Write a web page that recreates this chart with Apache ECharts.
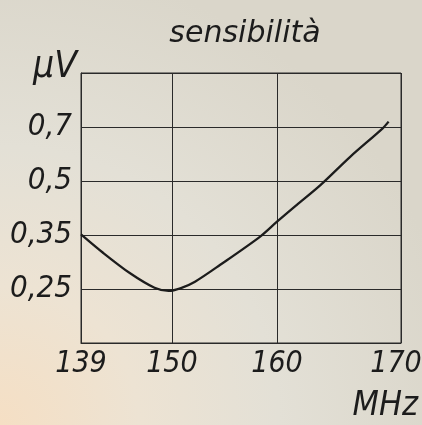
<!DOCTYPE html>
<html>
<head>
<meta charset="utf-8">
<script src="https://cdn.jsdelivr.net/npm/echarts@6/dist/echarts.min.js"></script>
<style>
html,body{margin:0;padding:0;}
#c{width:422px;height:425px;}
</style>
</head>
<body>
<div id="c"></div>
<script>
// ---- data ----
const freqMHz = [139, 141.7, 144.9, 147.9, 149.6, 150.8, 152.2, 154.6, 158.4, 160, 161.6, 163.5, 165.9, 168.5, 169];
const sensUV  = [0.355, 0.315, 0.277, 0.252, 0.247, 0.251, 0.262, 0.292, 0.350, 0.385, 0.429, 0.487, 0.584, 0.700, 0.732];
const xTickLabels = [139, 150, 160, 170];
const yTickValues = [0.25, 0.35, 0.5, 0.7];
const yTickLabels = ['0,25', '0,35', '0,5', '0,7'];

// ---- the hand-drawn frequency axis is not uniform: piecewise-linear scale between its ticks ----
const xTickStops = [0, 0.284, 0.6125, 1];
function xScale(f) {
  for (let i = 0; i < xTickLabels.length - 1; i++) {
    const a = xTickLabels[i], b = xTickLabels[i + 1];
    if (f <= b || i === xTickLabels.length - 2) {
      return xTickStops[i] + (f - a) / (b - a) * (xTickStops[i + 1] - xTickStops[i]);
    }
  }
}
function xLabel(v) {
  let best = 0;
  for (let i = 1; i < xTickStops.length; i++) {
    if (Math.abs(xTickStops[i] - v) < Math.abs(xTickStops[best] - v)) best = i;
  }
  const txt = String(xTickLabels[best]);
  return best === xTickStops.length - 1 ? '{e|' + txt + '}' : txt;
}
function yLabel(v) {
  for (let i = 0; i < yTickValues.length; i++) {
    if (Math.abs(v / yTickValues[i] - 1) < 0.04) return yTickLabels[i];
  }
  return '';
}

const seriesData = freqMHz.map((f, i) => [xScale(f), sensUV[i]]);

const ink = '#1c1c1c';
const labelFont = "'Liberation Sans Narrow','DejaVu Sans Condensed','Liberation Sans',sans-serif";

const chart = echarts.init(document.getElementById('c'), null, {renderer: 'canvas'});
chart.setOption({
  animation: false,
  backgroundColor: {
    type: 'radial', x: 0, y: 1, r: 1.1,
    colorStops: [
      {offset: 0, color: '#f5dfc4'},
      {offset: 0.3, color: '#ede3d3'},
      {offset: 0.6, color: '#e3e0d6'},
      {offset: 1, color: '#dad6ca'}
    ]
  },
  title: {
    text: 'sensibilità',
    left: 240,
    top: 14,
    textAlign: 'center',
    textStyle: {
      fontFamily: "'DejaVu Sans',sans-serif",
      fontStyle: 'italic',
      fontWeight: 'normal',
      fontSize: 30,
      color: ink
    }
  },
  grid: {
    left: 81, right: 21, top: 73, bottom: 82,
    show: true, borderColor: '#2a2a2a', borderWidth: 1,
    backgroundColor: 'transparent',
    containLabel: false,
    outerBoundsMode: 'none'
  },
  xAxis: {
    type: 'value',
    min: 0, max: 1,
    name: 'MHz',
    nameLocation: 'end',
    nameGap: 17,
    nameTextStyle: {
      fontFamily: labelFont, fontStyle: 'italic', fontSize: 34, color: ink,
      align: 'right', verticalAlign: 'top', padding: [46, 0, 0, 0]
    },
    axisLine: {show: true, lineStyle: {color: '#2a2a2a', width: 1}},
    axisTick: {show: false, customValues: xTickStops},
    axisLabel: {
      customValues: xTickStops,
      formatter: xLabel,
      margin: 6,
      fontFamily: labelFont, fontStyle: 'italic', fontSize: 30, color: ink,
      rich: {
        e: {fontFamily: labelFont, fontStyle: 'italic', fontSize: 30, color: ink, padding: [0, 10, 0, 0]}
      }
    },
    splitLine: {show: true, lineStyle: {color: '#2a2a2a', width: 1}}
  },
  yAxis: {
    type: 'log',
    logBase: Math.SQRT2,
    min: Math.pow(2, -2.5),
    max: 1,
    name: 'µV',
    nameLocation: 'end',
    nameGap: 6,
    nameTextStyle: {
      fontFamily: labelFont, fontStyle: 'italic', fontSize: 37, color: ink,
      align: 'right', verticalAlign: 'middle', padding: [0, 4, 0, 0]
    },
    axisLine: {show: true, lineStyle: {color: '#2a2a2a', width: 1}},
    axisTick: {show: false},
    axisLabel: {
      formatter: yLabel,
      margin: 9,
      fontFamily: labelFont, fontStyle: 'italic', fontSize: 31, color: ink
    },
    splitLine: {show: true, lineStyle: {color: '#2a2a2a', width: 1}}
  },
  series: [{
    type: 'line',
    data: seriesData,
    smooth: 0.3,
    symbol: 'none',
    lineStyle: {color: ink, width: 2.3},
    silent: true
  }]
});
</script>
</body>
</html>
